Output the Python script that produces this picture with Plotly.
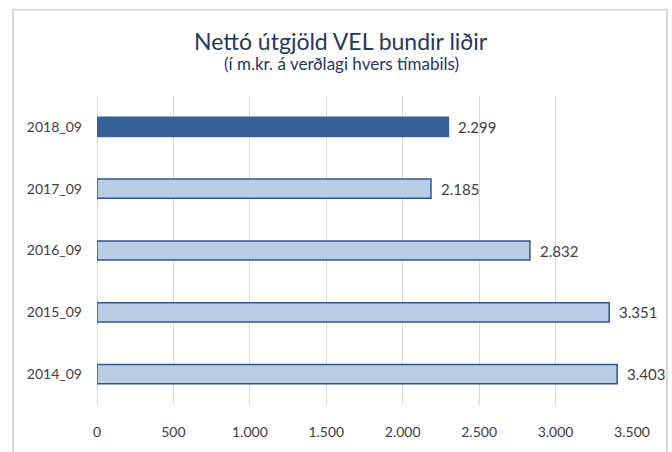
import plotly.graph_objects as go

categories = ["2014_09", "2015_09", "2016_09", "2017_09", "2018_09"]
values = [3403, 3351, 2832, 2185, 2299]
value_labels = ["3.403", "3.351", "2.832", "2.185", "2.299"]
x_ticks = [0, 500, 1000, 1500, 2000, 2500, 3000, 3500]

fill_colors = ["#B9CDE5"] * 4 + ["#376199"]
line_colors = ["#2F5597"] * 4 + ["#376199"]

FONT = "Lato"

fig = go.Figure()
fig.add_trace(go.Bar(
    y=categories, x=values, orientation="h",
    width=0.31,
    marker=dict(color=fill_colors, line=dict(color=line_colors, width=1.5)),
    hoverinfo="skip",
))

for c, v, t in zip(categories, values, value_labels):
    fig.add_annotation(x=v, y=c, text=t, showarrow=False, xanchor="left",
                       xshift=8, font=dict(family=FONT, size=15, color="#404040"))

fig.add_annotation(xref="paper", yref="paper", x=(341 - 97) / 535, y=(415 - 39) / 319,
                   text="Nettó útgjöld VEL bundir liðir", showarrow=False,
                   xanchor="center", yanchor="middle",
                   font=dict(family=FONT, size=23, color="#1F3864"))
fig.add_annotation(xref="paper", yref="paper", x=(341 - 97) / 535, y=(415 - 62) / 319,
                   text="(í m.kr. á verðlagi hvers tímabils)", showarrow=False,
                   xanchor="center", yanchor="middle",
                   font=dict(family=FONT, size=17, color="#1F3864"))

fig.add_shape(type="rect", xref="paper", yref="paper",
              x0=(13 - 97) / 535, x1=(667 - 97) / 535,
              y0=-0.3, y1=(415 - 7) / 319,
              line=dict(color="#D9D9D9", width=2), fillcolor="rgba(0,0,0,0)", layer="below")

fig.update_layout(
    width=672, height=452,
    margin=dict(l=97, r=40, t=96, b=37),
    paper_bgcolor="white", plot_bgcolor="white",
    separators=",.",
    showlegend=False,
    font=dict(family=FONT, size=14, color="#404040"),
    xaxis=dict(range=[0, 3500], tickvals=x_ticks, tickformat=",d",
               showgrid=True, gridcolor="#D9D9D9", gridwidth=1,
               zeroline=True, zerolinecolor="#D9D9D9", zerolinewidth=1,
               showline=False, ticks="", ticklabelstandoff=17,
               tickfont=dict(family=FONT, size=14, color="#404040"), fixedrange=True),
    yaxis=dict(categoryorder="array", categoryarray=categories,
               showgrid=False, showline=False, ticks="", ticklabelstandoff=14,
               tickfont=dict(family=FONT, size=14, color="#404040"), fixedrange=True),
)

fig.write_html("out.html", config={"displayModeBar": False},
               post_script="document.body.style.margin='0';")
